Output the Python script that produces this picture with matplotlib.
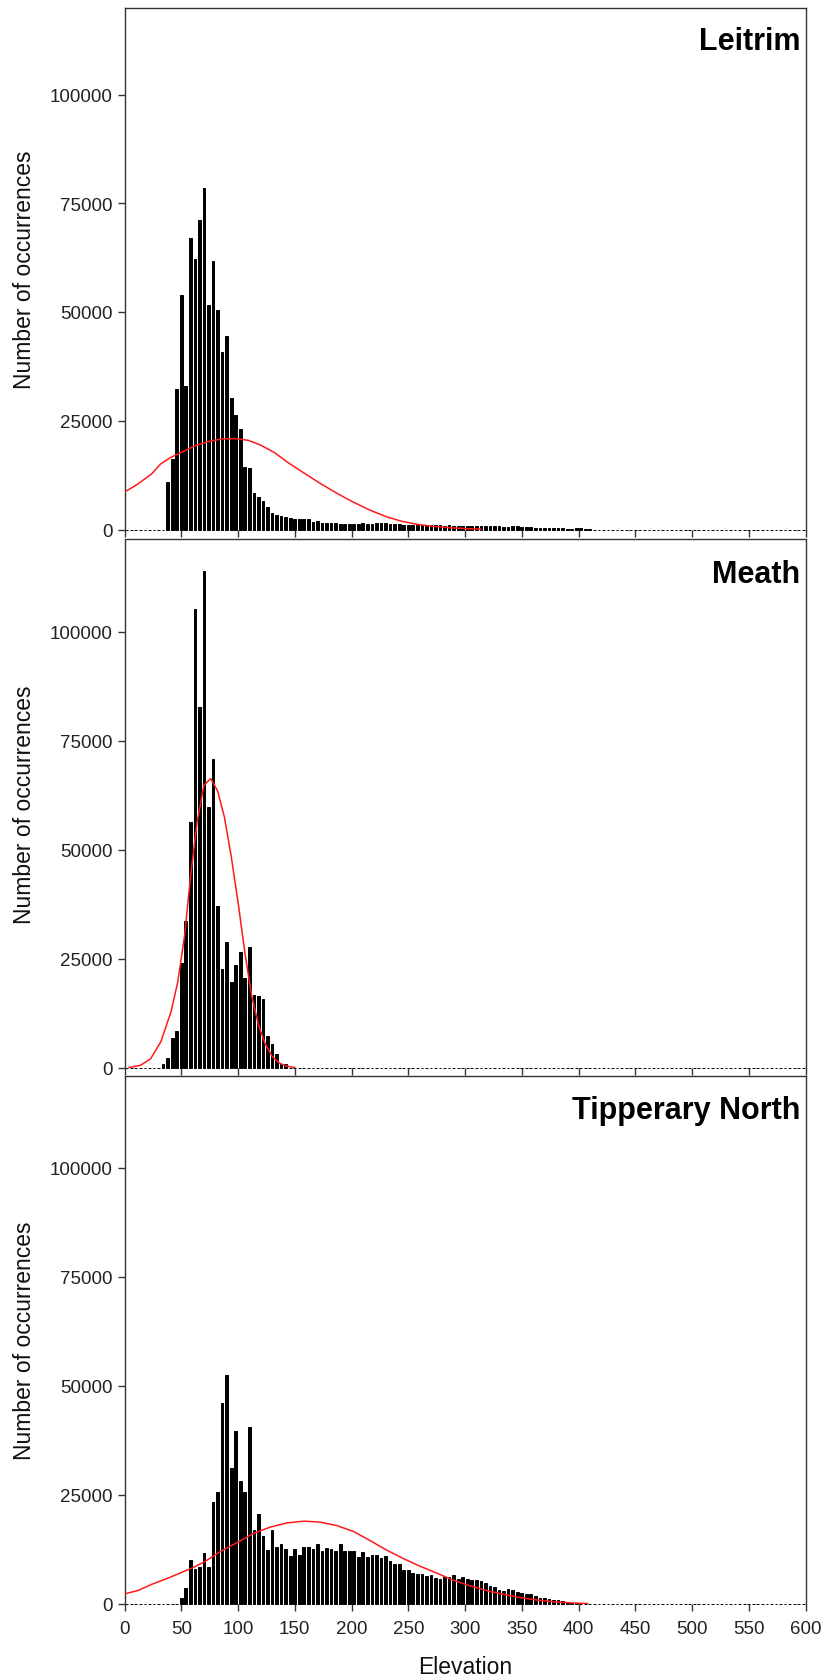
import numpy as np
import matplotlib.pyplot as plt

plt.rcParams['font.family'] = ['Liberation Sans', 'DejaVu Sans']

# =========================
# Data (bin width 4 m, bin centres 2, 6, 10, ...)
# =========================
bin_width = 4
n_bins = 150

# Leitrim: counts for bins centred 38 .. 410
leitrim_start = 38
leitrim_counts = [
    11000, 16200, 32300, 54000, 33000, 67000, 62200, 71200, 78600, 51600,
    61700, 50500, 40700, 44400, 30300, 26300, 23200, 14300, 14100, 8400,
    7500, 6500, 5200, 3700, 3300, 3100, 2800, 2700, 2500, 2300,
    2300, 2300, 1800, 1900, 1500, 1600, 1600, 1400, 1300, 1200,
    1200, 1200, 1300, 1500, 1300, 1300, 1500, 1400, 1400, 1200,
    1200, 1200, 1100, 1100, 1100, 1000, 1000, 1100, 1000, 1000,
    950, 900, 950, 900, 900, 900, 850, 850, 800, 800,
    800, 800, 800, 800, 600, 600, 700, 800, 650, 500,
    500, 450, 450, 450, 400, 300, 350, 250, 200, 200,
    300, 250, 100, 100,
]

# Meath: counts for bins centred 34 .. 142
meath_start = 34
meath_counts = [
    840, 2200, 6800, 8400, 24100, 33600, 56400, 105300, 82800, 113900,
    59800, 70800, 37000, 22600, 28700, 19700, 23600, 26500, 20600, 27600,
    16600, 16400, 15700, 7300, 5400, 3000, 900, 700,
]

# Tipperary North: counts for bins centred 50 .. 398
tipp_start = 50
tipp_counts = [
    1200, 3600, 9900, 7900, 8300, 11600, 8300, 23200, 25600, 46100,
    52400, 31000, 39700, 28200, 25600, 40500, 16800, 20500, 15600, 12200,
    16800, 12900, 13700, 12500, 11000, 12500, 11200, 13000, 13000, 12400,
    13700, 12000, 12700, 12600, 12100, 13700, 12000, 12000, 12000, 10700,
    11800, 10700, 11200, 11200, 10500, 10800, 9700, 9100, 9100, 7800,
    7800, 7000, 6800, 6800, 6300, 6500, 5900, 5700, 6000, 6000,
    6500, 5700, 6000, 5700, 5400, 5400, 5100, 4700, 4000, 3900,
    3200, 2800, 3400, 3200, 2600, 2400, 2100, 2100, 1700, 1150,
    1150, 1000, 900, 900, 600, 400, 200, 100,
]

# fitted curves (red)
leitrim_curve_x = [0, 12, 24, 32, 41, 50, 62, 74, 85, 97, 109, 120, 132, 144,
                   158, 173, 188, 200, 215, 230, 244, 260, 273, 290, 303, 314]
leitrim_curve_y = [8600, 10500, 12800, 15100, 16600, 17700, 19250, 20200, 20800,
                   20900, 20500, 19400, 17700, 15400, 13000, 10500, 8200, 6500,
                   4600, 3000, 1900, 1100, 700, 350, 180, 80]

meath_curve_x = [4, 14, 23, 32, 41, 47, 53, 58, 64, 70, 76, 82, 88, 94, 100,
                 106, 112, 118, 124, 130, 136, 142, 150]
meath_curve_y = [0, 500, 2000, 5900, 12800, 19700, 30400, 43400, 56400, 64800,
                 66300, 63500, 57500, 48500, 38000, 26500, 16500, 9800, 5400,
                 2600, 1100, 350, 0]

tipp_curve_x = [0, 12, 24, 40, 50, 60, 70, 83, 100, 113, 128, 143, 158, 172,
                187, 202, 216, 230, 245, 260, 275, 290, 304, 320, 334, 350,
                365, 380, 395, 408]
tipp_curve_y = [2200, 3000, 4400, 6000, 7100, 8200, 9500, 11700, 14100, 16000,
                17500, 18500, 18900, 18700, 17900, 16500, 14500, 12400, 10400,
                8600, 7000, 5300, 4100, 2900, 2100, 1300, 750, 350, 120, 0]

names = ["Leitrim", "Meath", "Tipperary North"]
starts = [leitrim_start, meath_start, tipp_start]
counts = [leitrim_counts, meath_counts, tipp_counts]
curves = [(leitrim_curve_x, leitrim_curve_y),
          (meath_curve_x, meath_curve_y),
          (tipp_curve_x, tipp_curve_y)]

y_ticks = [0, 25000, 50000, 75000, 100000]
x_ticks = list(range(0, 601, 50))

# =========================
# Plot
# =========================
W, H = 825, 1681
fig = plt.figure(figsize=(W / 100, H / 100), dpi=100)

# (top px, bottom px, y max) of each panel
panels = [(8.5, 530.5, 120000), (540.5, 1068.5, 121200), (1077, 1604.5, 121100)]
left_px, right_px = 124.5, 805.5

centres = bin_width / 2 + bin_width * np.arange(n_bins)
frame_col = "#333333"

for i, (name, start, cnt, (cx, cy)) in enumerate(zip(names, starts, counts, curves)):
    top, bot, ymax = panels[i]
    ax = fig.add_axes([left_px / W, 1 - bot / H, (right_px - left_px) / W, (bot - top) / H])

    heights = np.zeros(n_bins)
    i0 = int((start - bin_width / 2) / bin_width)
    heights[i0:i0 + len(cnt)] = cnt

    ax.bar(centres, heights, width=bin_width * 0.6, color="black",
           edgecolor="black", linewidth=0.7, zorder=2, clip_on=False)
    ax.plot(cx, cy, color="#ff1a1a", linewidth=1.1, zorder=3)

    ax.set_xlim(0, 600)
    ax.set_ylim(0, ymax)
    ax.set_xticks(x_ticks)
    ax.set_yticks(y_ticks)
    ax.set_yticklabels([str(t) for t in y_ticks])
    ax.tick_params(direction="out", length=5, width=1, colors=frame_col,
                   labelsize=13.5, labelcolor="#222222")
    ax.tick_params(axis="x", pad=7)
    if i < 2:
        ax.tick_params(labelbottom=False)
    else:
        ax.set_xlabel("Elevation", fontsize=16.5, color="#111111", labelpad=13)
    for s in ax.spines.values():
        s.set_color(frame_col)
        s.set_linewidth(1.0)
    ax.spines["bottom"].set_visible(False)
    ax.set_ylabel("Number of occurrences", fontsize=16.5, color="#111111", labelpad=10)

    ax.text(0.992, 0.935, name, transform=ax.transAxes, ha="right", va="center",
            fontsize=22, fontweight="bold", color="black")

fig.savefig("out.png", dpi=100)
